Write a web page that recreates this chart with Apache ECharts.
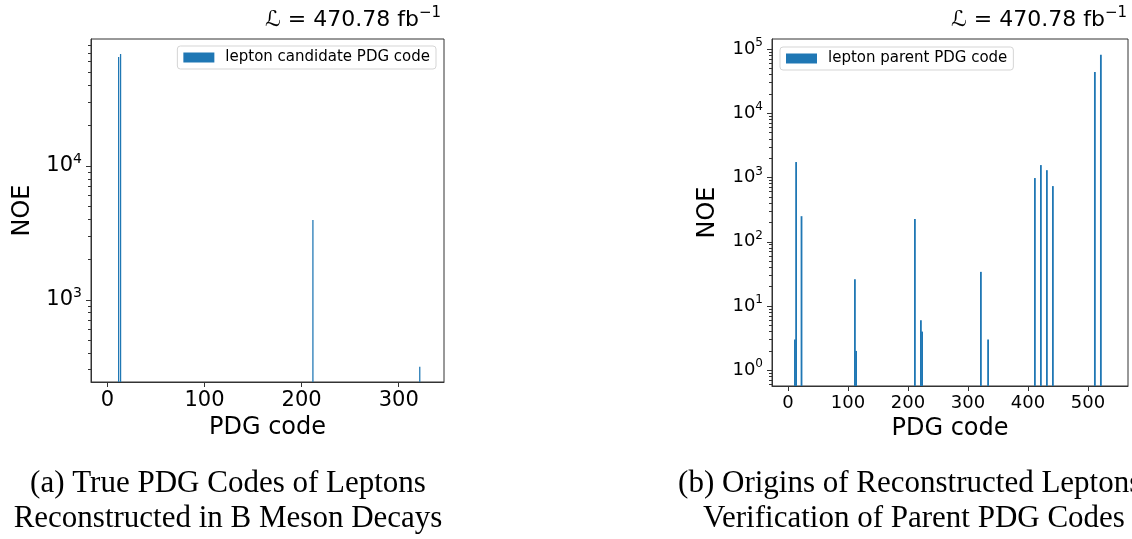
<!DOCTYPE html>
<html>
<head>
<meta charset="utf-8">
<script src="https://cdn.jsdelivr.net/npm/echarts@6/dist/echarts.min.js"></script>
<style>
  html, body { margin: 0; padding: 0; background: #fff; }
  #chart { width: 1132px; height: 539px; }
</style>
</head>
<body>
<div id="chart"></div>
<script>
// (a) lepton candidate PDG codes
const leftCodes = [11, 13, 211, 321];
const leftCounts = [65000, 68500, 3950, 316];

// (b) lepton parent PDG codes
const rightCodes = [11, 13, 22, 111, 113, 211, 221, 223, 321, 333, 411, 421, 431, 441, 511, 521];
const rightCounts = [3, 1740, 250, 26, 2, 225, 6, 4, 34, 3, 980, 1560, 1300, 735, 44000, 81000];

const leftXTicks = [0, 100, 200, 300];
const rightXTicks = [0, 100, 200, 300, 400, 500];
const leftYTicks = [1000, 10000];
const rightYTicks = [1, 10, 100, 1000, 10000, 100000];

const lumiText = 'ℒ = 470.78 fb';
const captionA = ['(a) True PDG Codes of Leptons', 'Reconstructed in B Meson Decays'];
const captionB = ['(b) Origins of Reconstructed Leptons:', 'Verification of Parent PDG Codes'];

const BLUE = '#1f77b4';
const AXIS = '#333';
const FONT = 'DejaVu Sans';

// 2..9 x 10^k inside [lo, hi]
function minorTicks(lo, hi) {
  const out = [];
  for (let e = Math.floor(Math.log10(lo)); e <= Math.ceil(Math.log10(hi)); e++) {
    for (let m = 2; m <= 9; m++) {
      const v = m * Math.pow(10, e);
      if (v >= lo && v <= hi) out.push(v);
    }
  }
  return out;
}

function pairs(xs, ys) {
  return xs.map((x, i) => [x, ys[i]]);
}

function histItem(offset, width) {
  return function (params, api) {
    const x = api.value(0) + offset;
    const top = api.coord([x, api.value(1)]);
    const right = api.coord([x + width, api.value(1)]);
    const cs = params.coordSys;
    const bottom = cs.y + cs.height;
    return {
      type: 'rect',
      shape: { x: top[0], y: top[1], width: right[0] - top[0], height: bottom - top[1] },
      style: { fill: BLUE }
    };
  };
}

function supLabel(size, supSize) {
  return {
    fontFamily: FONT,
    color: '#000',
    formatter: v => '{b|10}{s|' + Math.round(Math.log10(v)) + '}',
    rich: {
      b: { fontSize: size, fontFamily: FONT, lineHeight: size + 6, color: '#000' },
      s: { fontSize: supSize, fontFamily: FONT, lineHeight: supSize, verticalAlign: 'top', color: '#000' }
    }
  };
}

const L = { min: -16.8, max: 346.6, ymin: 243, ymax: 88700 };
const R = { min: -26.7, max: 566.7, ymin: 0.569, ymax: 143000 };

const chart = echarts.init(document.getElementById('chart'), null, { renderer: 'canvas' });

const lumiRich = {
  m: { fontSize: 22, fontFamily: FONT, fontWeight: 'normal', color: '#000', lineHeight: 28 },
  s: { fontSize: 15, fontFamily: FONT, fontWeight: 'normal', color: '#000', lineHeight: 15, verticalAlign: 'top' }
};

function minorAxis(grid, lo, hi) {
  return {
    type: 'log', logBase: 10, gridIndex: grid, min: lo, max: hi, position: 'left',
    axisLine: { show: false, onZero: false },
    axisTick: { show: true, length: 3, customValues: minorTicks(lo, hi), lineStyle: { color: AXIS } },
    axisLabel: { show: false },
    splitLine: { show: false }
  };
}

chart.setOption({
  animation: false,
  backgroundColor: '#fff',
  title: [
    { text: '{m|' + lumiText + '}{s|−1}', right: 686, top: 1, textStyle: { fontWeight: 'normal', rich: lumiRich } },
    { text: '{m|' + lumiText + '}{s|−1}', right: 0, top: 1, textStyle: { fontWeight: 'normal', rich: lumiRich } }
  ],
  legend: [
    {
      data: ['lepton candidate PDG code'],
      right: 696, top: 46,
      itemWidth: 31, itemHeight: 10, icon: 'rect',
      padding: [4, 6, 4, 6],
      borderColor: '#d5d5d5', borderWidth: 1, borderRadius: 3,
      backgroundColor: '#fff',
      textStyle: { fontFamily: FONT, fontSize: 15, color: '#000', padding: [0, 0, 0, 6] }
    },
    {
      data: ['lepton parent PDG code'],
      left: 780, top: 47,
      itemWidth: 31, itemHeight: 10, icon: 'rect',
      padding: [4, 6, 4, 6],
      borderColor: '#d5d5d5', borderWidth: 1, borderRadius: 3,
      backgroundColor: '#fff',
      textStyle: { fontFamily: FONT, fontSize: 15, color: '#000', padding: [0, 0, 0, 6] }
    }
  ],
  grid: [
    { left: 91, top: 39, width: 353, height: 343, show: true, borderColor: AXIS, borderWidth: 1, backgroundColor: 'transparent' },
    { left: 772, top: 39, width: 356, height: 347, show: true, borderColor: AXIS, borderWidth: 1, backgroundColor: 'transparent' }
  ],
  xAxis: [
    {
      type: 'value', gridIndex: 0, min: L.min, max: L.max,
      name: 'PDG code', nameLocation: 'middle', nameGap: 34,
      nameTextStyle: { fontFamily: FONT, fontSize: 24, color: '#000' },
      axisLine: { show: true, onZero: false, lineStyle: { color: AXIS } },
      axisTick: { show: true, length: 5, customValues: leftXTicks, lineStyle: { color: AXIS } },
      axisLabel: { customValues: leftXTicks, fontFamily: FONT, fontSize: 21, color: '#000', margin: 8 },
      splitLine: { show: false }
    },
    {
      type: 'value', gridIndex: 1, min: R.min, max: R.max,
      name: 'PDG code', nameLocation: 'middle', nameGap: 30,
      nameTextStyle: { fontFamily: FONT, fontSize: 24, color: '#000' },
      axisLine: { show: true, onZero: false, lineStyle: { color: AXIS } },
      axisTick: { show: true, length: 5, customValues: rightXTicks, lineStyle: { color: AXIS } },
      axisLabel: { customValues: rightXTicks, fontFamily: FONT, fontSize: 18, color: '#000', margin: 8 },
      splitLine: { show: false }
    }
  ],
  yAxis: [
    {
      type: 'log', logBase: 10, gridIndex: 0, min: L.ymin, max: L.ymax, position: 'left',
      name: 'NOE', nameLocation: 'middle', nameGap: 56,
      nameTextStyle: { fontFamily: FONT, fontSize: 24, color: '#000' },
      axisLine: { show: true, onZero: false, lineStyle: { color: AXIS } },
      axisTick: { show: true, length: 5, customValues: leftYTicks, lineStyle: { color: AXIS } },
      axisLabel: Object.assign({ customValues: leftYTicks, margin: 9 }, supLabel(21, 14)),
      splitLine: { show: false }
    },
    minorAxis(0, L.ymin, L.ymax),
    {
      type: 'log', logBase: 10, gridIndex: 1, min: R.ymin, max: R.ymax, position: 'left',
      name: 'NOE', nameLocation: 'middle', nameGap: 52,
      nameTextStyle: { fontFamily: FONT, fontSize: 24, color: '#000' },
      axisLine: { show: true, onZero: false, lineStyle: { color: AXIS } },
      axisTick: { show: true, length: 5, customValues: rightYTicks, lineStyle: { color: AXIS } },
      axisLabel: Object.assign({ customValues: rightYTicks, margin: 9 }, supLabel(18, 12)),
      splitLine: { show: false }
    },
    minorAxis(1, R.ymin, R.ymax)
  ],
  series: [
    {
      name: 'lepton candidate PDG code', type: 'custom',
      xAxisIndex: 0, yAxisIndex: 0, clip: true,
      itemStyle: { color: BLUE },
      renderItem: histItem(0, 1.3),
      data: pairs(leftCodes, leftCounts)
    },
    {
      name: 'lepton parent PDG code', type: 'custom',
      xAxisIndex: 1, yAxisIndex: 2, clip: true,
      itemStyle: { color: BLUE },
      renderItem: histItem(-1, 3),
      data: pairs(rightCodes, rightCounts)
    }
  ],
  graphic: [
    { type: 'text', x: 228, y: 484, style: { text: captionA[0], fontFamily: 'Liberation Serif', fontSize: 31, fill: '#000', align: 'center', verticalAlign: 'middle' } },
    { type: 'text', x: 228, y: 519, style: { text: captionA[1], fontFamily: 'Liberation Serif', fontSize: 31, fill: '#000', align: 'center', verticalAlign: 'middle' } },
    { type: 'text', x: 914, y: 484, style: { text: captionB[0], fontFamily: 'Liberation Serif', fontSize: 31, fill: '#000', align: 'center', verticalAlign: 'middle' } },
    { type: 'text', x: 914, y: 519, style: { text: captionB[1], fontFamily: 'Liberation Serif', fontSize: 31, fill: '#000', align: 'center', verticalAlign: 'middle' } }
  ]
});
</script>
</body>
</html>
